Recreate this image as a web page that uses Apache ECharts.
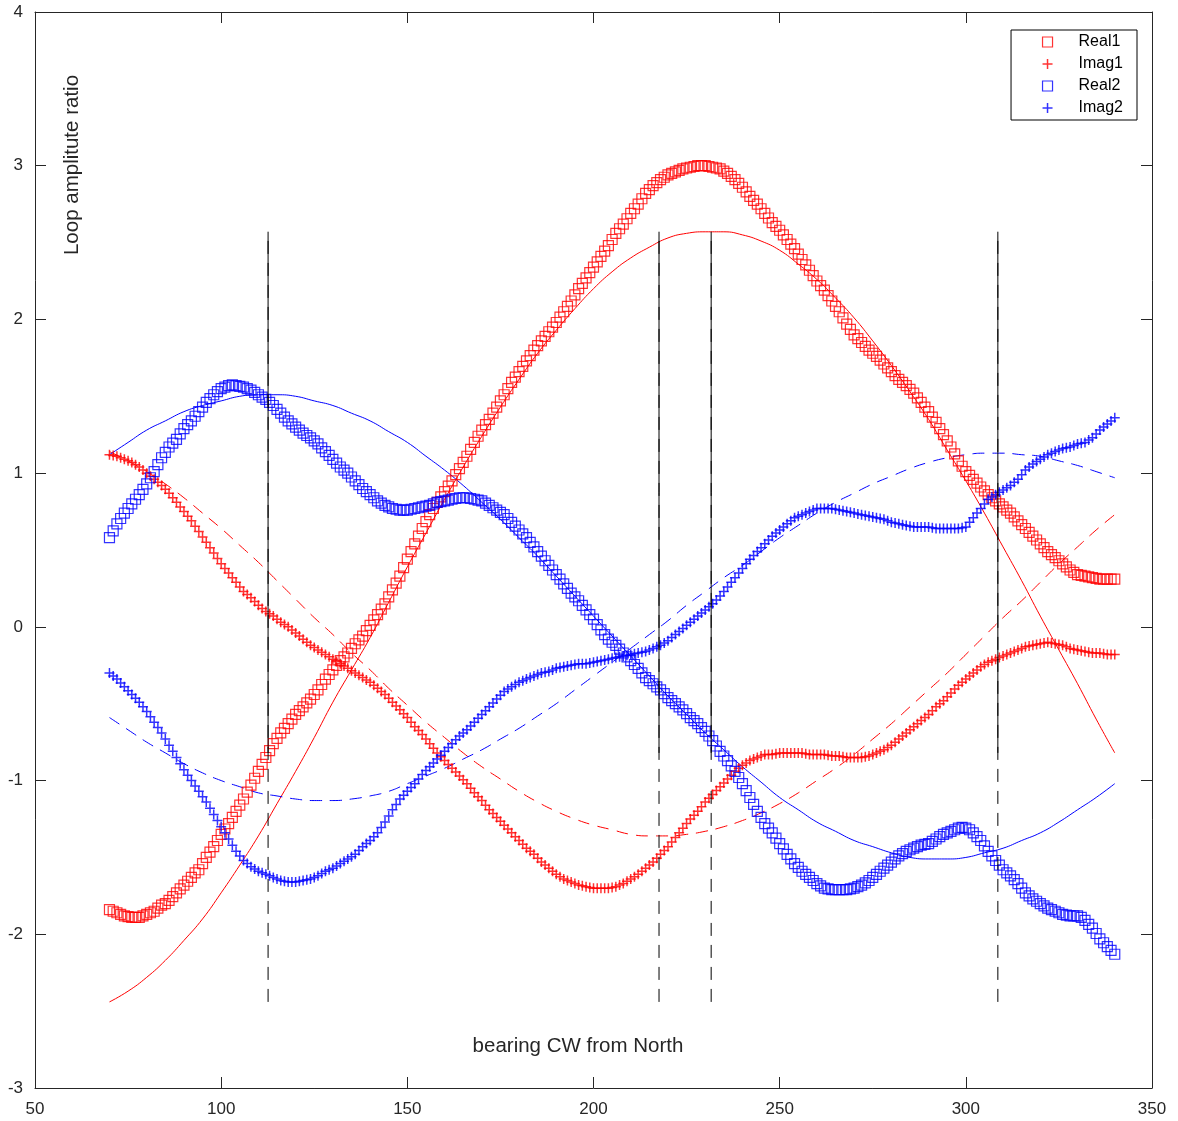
<!DOCTYPE html>
<html>
<head>
<meta charset="utf-8">
<script src="https://cdn.jsdelivr.net/npm/echarts@6/dist/echarts.min.js"></script>
<style>
html,body{margin:0;padding:0;background:#fff;}
#chart{width:1178px;height:1121px;}
</style>
</head>
<body>
<div id="chart"></div>
<script>
// ---- data (one reading per degree) ----
const bearing = [
70,71,72,73,74,75,76,77,78,79,
80,81,82,83,84,85,86,87,88,89,
90,91,92,93,94,95,96,97,98,99,
100,101,102,103,104,105,106,107,108,109,
110,111,112,113,114,115,116,117,118,119,
120,121,122,123,124,125,126,127,128,129,
130,131,132,133,134,135,136,137,138,139,
140,141,142,143,144,145,146,147,148,149,
150,151,152,153,154,155,156,157,158,159,
160,161,162,163,164,165,166,167,168,169,
170,171,172,173,174,175,176,177,178,179,
180,181,182,183,184,185,186,187,188,189,
190,191,192,193,194,195,196,197,198,199,
200,201,202,203,204,205,206,207,208,209,
210,211,212,213,214,215,216,217,218,219,
220,221,222,223,224,225,226,227,228,229,
230,231,232,233,234,235,236,237,238,239,
240,241,242,243,244,245,246,247,248,249,
250,251,252,253,254,255,256,257,258,259,
260,261,262,263,264,265,266,267,268,269,
270,271,272,273,274,275,276,277,278,279,
280,281,282,283,284,285,286,287,288,289,
290,291,292,293,294,295,296,297,298,299,
300,301,302,303,304,305,306,307,308,309,
310,311,312,313,314,315,316,317,318,319,
320,321,322,323,324,325,326,327,328,329,
330,331,332,333,334,335,336,337,338,339,
340];

const real1 = [
-1.84,-1.85,-1.86,-1.87,-1.88,-1.885,-1.89,-1.89,-1.89,-1.88,
-1.87,-1.86,-1.85,-1.83,-1.81,-1.80,-1.78,-1.755,-1.73,-1.705,
-1.68,-1.655,-1.63,-1.60,-1.58,-1.54,-1.50,-1.465,-1.43,-1.39,
-1.35,-1.315,-1.28,-1.24,-1.20,-1.16,-1.12,-1.075,-1.03,-0.985,
-0.94,-0.895,-0.85,-0.805,-0.76,-0.725,-0.69,-0.66,-0.63,-0.60,
-0.57,-0.545,-0.52,-0.495,-0.47,-0.44,-0.41,-0.375,-0.34,-0.31,
-0.28,-0.25,-0.22,-0.195,-0.17,-0.14,-0.11,-0.085,-0.06,-0.025,
0.01,0.045,0.08,0.115,0.15,0.195,0.24,0.285,0.33,0.385,
0.44,0.49,0.54,0.59,0.64,0.685,0.73,0.77,0.81,0.845,
0.88,0.915,0.95,0.99,1.03,1.07,1.11,1.155,1.20,1.24,
1.28,1.315,1.35,1.39,1.43,1.47,1.51,1.55,1.59,1.625,
1.66,1.695,1.73,1.765,1.80,1.83,1.86,1.89,1.92,1.95,
1.98,2.015,2.05,2.085,2.12,2.16,2.20,2.235,2.27,2.305,
2.34,2.375,2.41,2.445,2.48,2.52,2.56,2.59,2.62,2.655,
2.69,2.72,2.75,2.785,2.82,2.845,2.87,2.89,2.91,2.925,
2.94,2.95,2.96,2.97,2.98,2.985,2.99,2.995,3.00,3.00,
3.00,2.995,2.99,2.985,2.98,2.965,2.95,2.93,2.91,2.885,
2.86,2.83,2.80,2.775,2.75,2.72,2.69,2.66,2.63,2.605,
2.58,2.55,2.52,2.49,2.46,2.425,2.39,2.355,2.32,2.285,
2.25,2.22,2.19,2.155,2.12,2.085,2.05,2.01,1.97,1.935,
1.90,1.875,1.85,1.825,1.80,1.78,1.76,1.735,1.71,1.685,
1.66,1.635,1.61,1.59,1.57,1.545,1.52,1.49,1.46,1.43,
1.40,1.365,1.33,1.29,1.25,1.21,1.17,1.125,1.08,1.045,
1.01,0.985,0.96,0.935,0.91,0.885,0.86,0.84,0.82,0.80,
0.78,0.76,0.74,0.715,0.69,0.665,0.64,0.615,0.59,0.565,
0.54,0.515,0.49,0.47,0.45,0.43,0.41,0.39,0.37,0.355,
0.34,0.335,0.33,0.325,0.32,0.315,0.31,0.31,0.31,0.31,
0.31];

const imag1 = [
1.12,1.115,1.11,1.10,1.09,1.08,1.07,1.055,1.04,1.02,
1.00,0.98,0.96,0.94,0.92,0.895,0.87,0.84,0.81,0.78,
0.75,0.72,0.69,0.655,0.62,0.585,0.55,0.515,0.48,0.445,
0.41,0.38,0.35,0.32,0.29,0.26,0.23,0.21,0.19,0.165,
0.14,0.12,0.10,0.085,0.07,0.05,0.03,0.015,0.00,-0.02,
-0.04,-0.06,-0.08,-0.10,-0.12,-0.135,-0.15,-0.165,-0.18,-0.195,
-0.21,-0.225,-0.24,-0.255,-0.27,-0.285,-0.30,-0.315,-0.33,-0.345,
-0.36,-0.38,-0.40,-0.42,-0.44,-0.465,-0.49,-0.515,-0.54,-0.565,
-0.59,-0.62,-0.65,-0.675,-0.70,-0.73,-0.76,-0.79,-0.82,-0.845,
-0.87,-0.895,-0.92,-0.945,-0.97,-0.995,-1.02,-1.05,-1.08,-1.105,
-1.13,-1.16,-1.19,-1.215,-1.24,-1.265,-1.29,-1.315,-1.34,-1.365,
-1.39,-1.415,-1.44,-1.46,-1.48,-1.505,-1.53,-1.55,-1.57,-1.59,
-1.61,-1.625,-1.64,-1.65,-1.66,-1.67,-1.68,-1.685,-1.69,-1.695,
-1.70,-1.70,-1.70,-1.70,-1.70,-1.695,-1.69,-1.68,-1.67,-1.655,
-1.64,-1.625,-1.61,-1.59,-1.57,-1.55,-1.53,-1.505,-1.48,-1.455,
-1.43,-1.40,-1.37,-1.34,-1.31,-1.28,-1.25,-1.225,-1.20,-1.17,
-1.14,-1.115,-1.09,-1.065,-1.04,-1.015,-0.99,-0.965,-0.94,-0.92,
-0.90,-0.885,-0.87,-0.86,-0.85,-0.84,-0.83,-0.83,-0.83,-0.825,
-0.82,-0.82,-0.82,-0.82,-0.82,-0.82,-0.82,-0.825,-0.83,-0.83,
-0.83,-0.83,-0.83,-0.835,-0.84,-0.84,-0.84,-0.845,-0.85,-0.85,
-0.85,-0.85,-0.85,-0.845,-0.84,-0.83,-0.82,-0.81,-0.80,-0.785,
-0.77,-0.75,-0.73,-0.71,-0.69,-0.67,-0.65,-0.63,-0.61,-0.59,
-0.57,-0.545,-0.52,-0.50,-0.48,-0.455,-0.43,-0.405,-0.38,-0.36,
-0.34,-0.32,-0.30,-0.28,-0.26,-0.245,-0.23,-0.22,-0.21,-0.20,
-0.19,-0.18,-0.17,-0.16,-0.15,-0.14,-0.13,-0.125,-0.12,-0.115,
-0.11,-0.105,-0.10,-0.105,-0.11,-0.115,-0.12,-0.13,-0.14,-0.145,
-0.15,-0.155,-0.16,-0.165,-0.17,-0.17,-0.17,-0.175,-0.18,-0.18,
-0.18];

const real2 = [
0.58,0.625,0.67,0.705,0.74,0.77,0.80,0.83,0.86,0.895,
0.93,0.97,1.01,1.055,1.10,1.135,1.17,1.195,1.22,1.255,
1.29,1.315,1.34,1.37,1.40,1.43,1.46,1.485,1.51,1.53,
1.55,1.56,1.57,1.575,1.57,1.565,1.56,1.55,1.54,1.525,
1.51,1.495,1.48,1.46,1.44,1.415,1.39,1.365,1.34,1.32,
1.30,1.28,1.26,1.245,1.23,1.21,1.19,1.165,1.14,1.115,
1.09,1.065,1.04,1.02,1.00,0.975,0.95,0.925,0.90,0.88,
0.86,0.84,0.82,0.805,0.79,0.78,0.77,0.765,0.76,0.76,
0.76,0.765,0.77,0.775,0.78,0.785,0.79,0.80,0.81,0.815,
0.82,0.825,0.83,0.835,0.84,0.84,0.84,0.835,0.83,0.825,
0.82,0.805,0.79,0.775,0.76,0.745,0.73,0.705,0.68,0.655,
0.63,0.605,0.58,0.55,0.52,0.49,0.46,0.43,0.40,0.37,
0.34,0.31,0.28,0.25,0.22,0.195,0.17,0.14,0.11,0.08,
0.05,0.015,-0.02,-0.05,-0.08,-0.10,-0.12,-0.145,-0.17,-0.195,
-0.22,-0.245,-0.27,-0.30,-0.33,-0.35,-0.37,-0.39,-0.41,-0.435,
-0.46,-0.48,-0.50,-0.52,-0.54,-0.565,-0.59,-0.61,-0.63,-0.655,
-0.68,-0.71,-0.74,-0.775,-0.81,-0.84,-0.87,-0.905,-0.94,-0.98,
-1.02,-1.065,-1.11,-1.155,-1.20,-1.24,-1.28,-1.31,-1.34,-1.375,
-1.41,-1.445,-1.48,-1.51,-1.54,-1.565,-1.59,-1.61,-1.63,-1.65,
-1.67,-1.685,-1.70,-1.705,-1.71,-1.71,-1.71,-1.71,-1.71,-1.705,
-1.70,-1.69,-1.68,-1.665,-1.65,-1.63,-1.61,-1.59,-1.57,-1.55,
-1.53,-1.51,-1.49,-1.475,-1.46,-1.45,-1.44,-1.43,-1.42,-1.415,
-1.41,-1.395,-1.38,-1.365,-1.35,-1.34,-1.33,-1.32,-1.31,-1.305,
-1.31,-1.32,-1.34,-1.365,-1.39,-1.425,-1.46,-1.49,-1.52,-1.55,
-1.58,-1.60,-1.62,-1.645,-1.67,-1.70,-1.73,-1.75,-1.77,-1.785,
-1.80,-1.815,-1.83,-1.84,-1.85,-1.86,-1.87,-1.875,-1.88,-1.88,
-1.88,-1.89,-1.91,-1.935,-1.96,-1.995,-2.03,-2.055,-2.08,-2.105,
-2.13];

const imag2 = [
-0.30,-0.32,-0.34,-0.365,-0.39,-0.415,-0.44,-0.465,-0.49,-0.52,
-0.55,-0.585,-0.62,-0.655,-0.69,-0.73,-0.77,-0.81,-0.85,-0.89,
-0.93,-0.965,-1.00,-1.035,-1.07,-1.105,-1.14,-1.18,-1.22,-1.26,
-1.30,-1.34,-1.38,-1.42,-1.46,-1.49,-1.52,-1.54,-1.56,-1.575,
-1.59,-1.60,-1.61,-1.62,-1.63,-1.64,-1.65,-1.655,-1.66,-1.66,
-1.66,-1.655,-1.65,-1.645,-1.64,-1.63,-1.62,-1.605,-1.59,-1.58,
-1.57,-1.555,-1.54,-1.525,-1.51,-1.495,-1.48,-1.455,-1.43,-1.41,
-1.39,-1.365,-1.34,-1.305,-1.27,-1.23,-1.19,-1.155,-1.12,-1.095,
-1.07,-1.045,-1.02,-0.99,-0.96,-0.935,-0.91,-0.885,-0.86,-0.835,
-0.81,-0.785,-0.76,-0.735,-0.71,-0.69,-0.67,-0.645,-0.62,-0.595,
-0.57,-0.545,-0.52,-0.495,-0.47,-0.445,-0.42,-0.405,-0.39,-0.375,
-0.36,-0.35,-0.34,-0.33,-0.32,-0.31,-0.30,-0.295,-0.29,-0.28,
-0.27,-0.265,-0.26,-0.255,-0.25,-0.245,-0.24,-0.24,-0.24,-0.235,
-0.23,-0.225,-0.22,-0.215,-0.21,-0.205,-0.20,-0.195,-0.19,-0.185,
-0.18,-0.175,-0.17,-0.165,-0.16,-0.15,-0.14,-0.13,-0.12,-0.105,
-0.09,-0.07,-0.05,-0.03,-0.01,0.01,0.03,0.05,0.07,0.09,
0.11,0.13,0.15,0.175,0.20,0.23,0.26,0.29,0.32,0.35,
0.38,0.41,0.44,0.465,0.49,0.515,0.54,0.565,0.59,0.61,
0.63,0.65,0.67,0.69,0.71,0.72,0.73,0.74,0.75,0.76,
0.77,0.77,0.77,0.77,0.77,0.765,0.76,0.755,0.75,0.745,
0.74,0.735,0.73,0.725,0.72,0.715,0.71,0.705,0.70,0.69,
0.68,0.675,0.67,0.665,0.66,0.655,0.65,0.65,0.65,0.65,
0.65,0.645,0.64,0.64,0.64,0.64,0.64,0.64,0.64,0.645,
0.65,0.68,0.71,0.74,0.77,0.80,0.83,0.845,0.86,0.875,
0.89,0.905,0.92,0.94,0.96,0.99,1.02,1.04,1.06,1.075,
1.09,1.105,1.12,1.13,1.14,1.15,1.16,1.165,1.17,1.18,
1.19,1.195,1.20,1.215,1.23,1.255,1.28,1.30,1.32,1.34,
1.36];

// fitted curves, read every 5 degrees
const fitBearing = [70,75,80,85,90,95,100,105,110,115,120,125,130,135,140,145,150,155,160,165,170,175,180,185,190,195,200,205,210,215,220,225,230,235,240,245,250,255,260,265,270,275,280,285,290,295,300,305,310,315,320,325,330,335,340];
const fitReal1 = [-2.44,-2.37,-2.28,-2.17,-2.04,-1.90,-1.73,-1.55,-1.36,-1.15,-0.94,-0.72,-0.49,-0.28,-0.07,0.16,0.39,0.61,0.83,1.04,1.24,1.43,1.61,1.78,1.93,2.07,2.20,2.31,2.40,2.47,2.53,2.56,2.57,2.57,2.55,2.51,2.45,2.36,2.26,2.14,2.01,1.86,1.70,1.53,1.35,1.15,0.95,0.74,0.52,0.30,0.07,-0.15,-0.37,-0.60,-0.82];
const fitImag1 = [1.14,1.08,1.01,0.93,0.84,0.74,0.64,0.53,0.42,0.30,0.18,0.06,-0.05,-0.17,-0.28,-0.40,-0.51,-0.62,-0.72,-0.82,-0.91,-0.99,-1.07,-1.14,-1.20,-1.25,-1.29,-1.32,-1.35,-1.36,-1.36,-1.35,-1.33,-1.30,-1.26,-1.21,-1.15,-1.08,-1.00,-0.92,-0.83,-0.73,-0.63,-0.52,-0.41,-0.30,-0.18,-0.06,0.06,0.17,0.29,0.41,0.52,0.63,0.73];
const fitReal2 = [1.12,1.20,1.28,1.34,1.40,1.44,1.47,1.50,1.51,1.51,1.50,1.47,1.44,1.39,1.34,1.27,1.20,1.11,1.02,0.92,0.81,0.70,0.58,0.46,0.33,0.20,0.07,-0.06,-0.19,-0.32,-0.45,-0.57,-0.69,-0.80,-0.91,-1.01,-1.11,-1.19,-1.27,-1.33,-1.39,-1.43,-1.47,-1.50,-1.51,-1.51,-1.50,-1.47,-1.44,-1.39,-1.34,-1.27,-1.19,-1.11,-1.02];
const fitImag2 = [-0.59,-0.67,-0.75,-0.82,-0.89,-0.95,-1.00,-1.04,-1.08,-1.10,-1.12,-1.13,-1.13,-1.12,-1.10,-1.07,-1.02,-0.97,-0.92,-0.86,-0.80,-0.73,-0.66,-0.58,-0.50,-0.41,-0.32,-0.23,-0.14,-0.05,0.04,0.14,0.23,0.32,0.40,0.49,0.58,0.66,0.74,0.81,0.87,0.93,0.98,1.03,1.07,1.10,1.12,1.13,1.13,1.12,1.11,1.08,1.05,1.01,0.97];

// vertical marker lines
const vlineX = [112.6, 217.6, 231.6, 308.6];
const vlineTop = 2.57;
const vlineBottom = -2.44;
const vlineSolidBottom = -0.82;

const xTicks = [50,100,150,200,250,300,350];
const yTicks = [-3,-2,-1,0,1,2,3,4];

const legendNames = ['Real1','Imag1','Real2','Imag2'];
const xLabel = 'bearing CW from North';
const yLabel = 'Loop amplitute ratio';

// ---- chart ----
const RED = '#ff0000', BLUE = '#0000ff', AX = '#262626';
const SQUARE = 'path://M0,0L10,0L10,10L0,10Z';
const PLUS = 'path://M0,5L10,5M5,0L5,10';
const FONT = 'Liberation Sans, Arial, sans-serif';

function pairs(xs, ys){ return xs.map((x,i)=>[x, ys[i]]); }

function markerSeries(name, ys, symbol, color, bw){
  return {
    name, type:'scatter', data: pairs(bearing, ys),
    symbol, symbolSize: 10,
    itemStyle:{color:'none', borderColor: color, borderWidth: bw},
    emphasis:{disabled:true}, silent:true, z:3
  };
}
function fitSeries(ys, color, dashed){
  return {
    type:'line', data: pairs(fitBearing, ys), smooth: true, symbol:'none',
    lineStyle:{color, width:1, type: dashed ? [12,8] : 'solid'},
    emphasis:{disabled:true}, silent:true, z:2
  };
}

const series = [
  markerSeries(legendNames[0], real1, SQUARE, RED, 1.2),
  markerSeries(legendNames[1], imag1, PLUS, RED, 1.5),
  markerSeries(legendNames[2], real2, SQUARE, BLUE, 1.2),
  markerSeries(legendNames[3], imag2, PLUS, BLUE, 1.5),
  fitSeries(fitReal1, RED, false),
  fitSeries(fitImag1, RED, true),
  fitSeries(fitReal2, BLUE, false),
  fitSeries(fitImag2, BLUE, true)
];
vlineX.forEach(x=>{
  series.push({type:'line', data:[[x, vlineSolidBottom],[x, vlineTop]], symbol:'none',
    lineStyle:{color:'#000', width:1, type:'solid'}, silent:true, z:4});
  series.push({type:'line', data:[[x, vlineBottom],[x, vlineTop]], symbol:'none',
    lineStyle:{color:'#000', width:1, type:[13,9]}, silent:true, z:4});
});

function axisCommon(extra){
  return Object.assign({
    type:'value',
    axisLine:{show:true, onZero:false, lineStyle:{color:AX, width:1}},
    axisTick:{show:true, inside:true, length:11, lineStyle:{color:AX, width:1}},
    splitLine:{show:false}
  }, extra);
}

const chart = echarts.init(document.getElementById('chart'), null, {renderer:'canvas'});
chart.setOption({
  animation:false,
  backgroundColor:'#ffffff',
  grid:{left:35, right:26, top:12, bottom:33, containLabel:false},
  xAxis:[
    axisCommon({position:'bottom', min:xTicks[0], max:xTicks[xTicks.length-1], interval:50,
      axisLabel:{show:true, color:AX, fontSize:17, fontFamily:FONT, margin:13}}),
    axisCommon({position:'top', min:xTicks[0], max:xTicks[xTicks.length-1], interval:50,
      axisLabel:{show:false}})
  ],
  yAxis:[
    axisCommon({position:'left', min:yTicks[0], max:yTicks[yTicks.length-1], interval:1,
      axisLabel:{show:true, color:AX, fontSize:17, fontFamily:FONT, margin:12}}),
    axisCommon({position:'right', min:yTicks[0], max:yTicks[yTicks.length-1], interval:1,
      axisLabel:{show:false}})
  ],
  legend:{
    orient:'vertical', right:41, top:30,
    backgroundColor:'#ffffff', borderColor:'#000', borderWidth:1, borderRadius:0,
    padding:[1,14,1,29], itemGap:0, itemWidth:52, itemHeight:10, symbolKeepAspect:true,
    textStyle:{color:'#000', fontSize:16, fontFamily:FONT, lineHeight:22},
    selectedMode:false,
    data:[
      {name:legendNames[0], icon:SQUARE, itemStyle:{color:'none', borderColor:RED, borderWidth:1.2}},
      {name:legendNames[1], icon:PLUS, itemStyle:{color:'none', borderColor:RED, borderWidth:1.5}},
      {name:legendNames[2], icon:SQUARE, itemStyle:{color:'none', borderColor:BLUE, borderWidth:1.2}},
      {name:legendNames[3], icon:PLUS, itemStyle:{color:'none', borderColor:BLUE, borderWidth:1.5}}
    ]
  },
  graphic:[
    {type:'text', x:72, y:165, rotation:Math.PI/2, silent:true,
      style:{text:yLabel, fill:AX, font:'20.5px '+FONT, textAlign:'center', textVerticalAlign:'middle'}},
    {type:'text', x:578, y:1046, silent:true,
      style:{text:xLabel, fill:AX, font:'20.5px '+FONT, textAlign:'center', textVerticalAlign:'middle'}}
  ],
  series
});
</script>
</body>
</html>
